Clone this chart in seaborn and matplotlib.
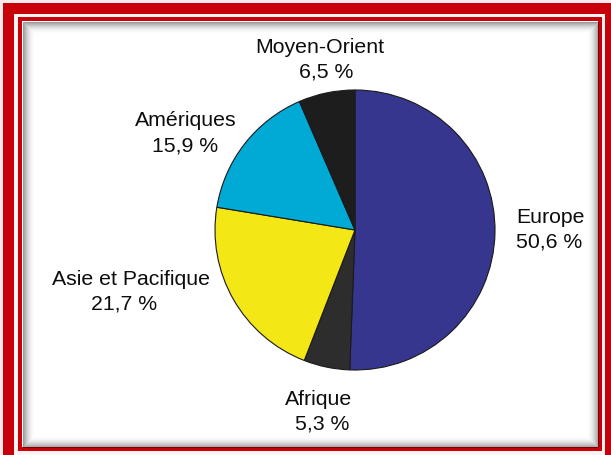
import matplotlib
matplotlib.use("Agg")
import matplotlib.pyplot as plt
import matplotlib.patches as mpatches
import seaborn as sns

# Répartition par région
regions = ["Europe", "Afrique", "Asie et Pacifique", "Amériques", "Moyen-Orient"]
parts = [50.6, 5.3, 21.7, 15.9, 6.5]
couleurs = ["#36368f", "#2d2d2d", "#f3e816", "#00aad4", "#1d1d1d"]

# label anchors (image pixels): x name, baseline name, x pct, baseline pct
label_pos = [
    (550, 223, 549, 248),
    (319, 405, 322, 430),
    (131, 285, 124, 310),
    (186, 126, 185, 151),
    (320, 53, 326, 78),
]

W, H = 611, 455
sns.set_style("white")
plt.rcParams["font.family"] = ["Liberation Sans", "DejaVu Sans"]

fig = plt.figure(figsize=(W / 100, H / 100), dpi=100)
ax = fig.add_axes([0, 0, 1, 1])


def box(x0, y0, x1, y1, color, z=0):
    # image coords (y down) -> axes coords (y up)
    ax.add_patch(mpatches.Rectangle((x0, H - y1), x1 - x0, y1 - y0,
                                    facecolor=color, edgecolor="none", zorder=z))


# cadre rouge
red = "#c8000a"
box(0, 0, W, H, "#fbeaea", z=0)
box(3, 3, W + 20, H + 20, red, z=1)
box(14, 14, 605, H + 20, "#fdf3f3", z=2)
box(18, 17, 602, 451, red, z=3)
box(22, 21, 598, 447, "white", z=4)

# ombre intérieure
for i in range(12):
    a = 0.38 * (1 - i / 12) ** 2
    ax.add_patch(mpatches.Rectangle((22 + i + 0.5, H - 447 + i + 0.5), 576 - 2 * i - 1, 426 - 2 * i - 1,
                                    facecolor="none", edgecolor="black", alpha=a,
                                    linewidth=0.75, zorder=5))

# camembert
ax.pie(parts, colors=couleurs, startangle=90, counterclock=False,
       center=(355, H - 230), radius=140, frame=True,
       wedgeprops=dict(edgecolor="#1a1a1a", linewidth=0.8, zorder=6))
ax.set_xlim(0, W)
ax.set_ylim(0, H)
ax.axis("off")

for nom, p, (xn, yn, xp, yp) in zip(regions, parts, label_pos):
    pct = f"{p:.1f} %".replace(".", ",")
    ax.text(xn, H - yn, nom, ha="center", va="baseline", fontsize=15.3, color="#0d0d0d", zorder=7)
    ax.text(xp, H - yp, pct, ha="center", va="baseline", fontsize=15.3, color="#0d0d0d", zorder=7)

fig.savefig("out.png", dpi=100)
